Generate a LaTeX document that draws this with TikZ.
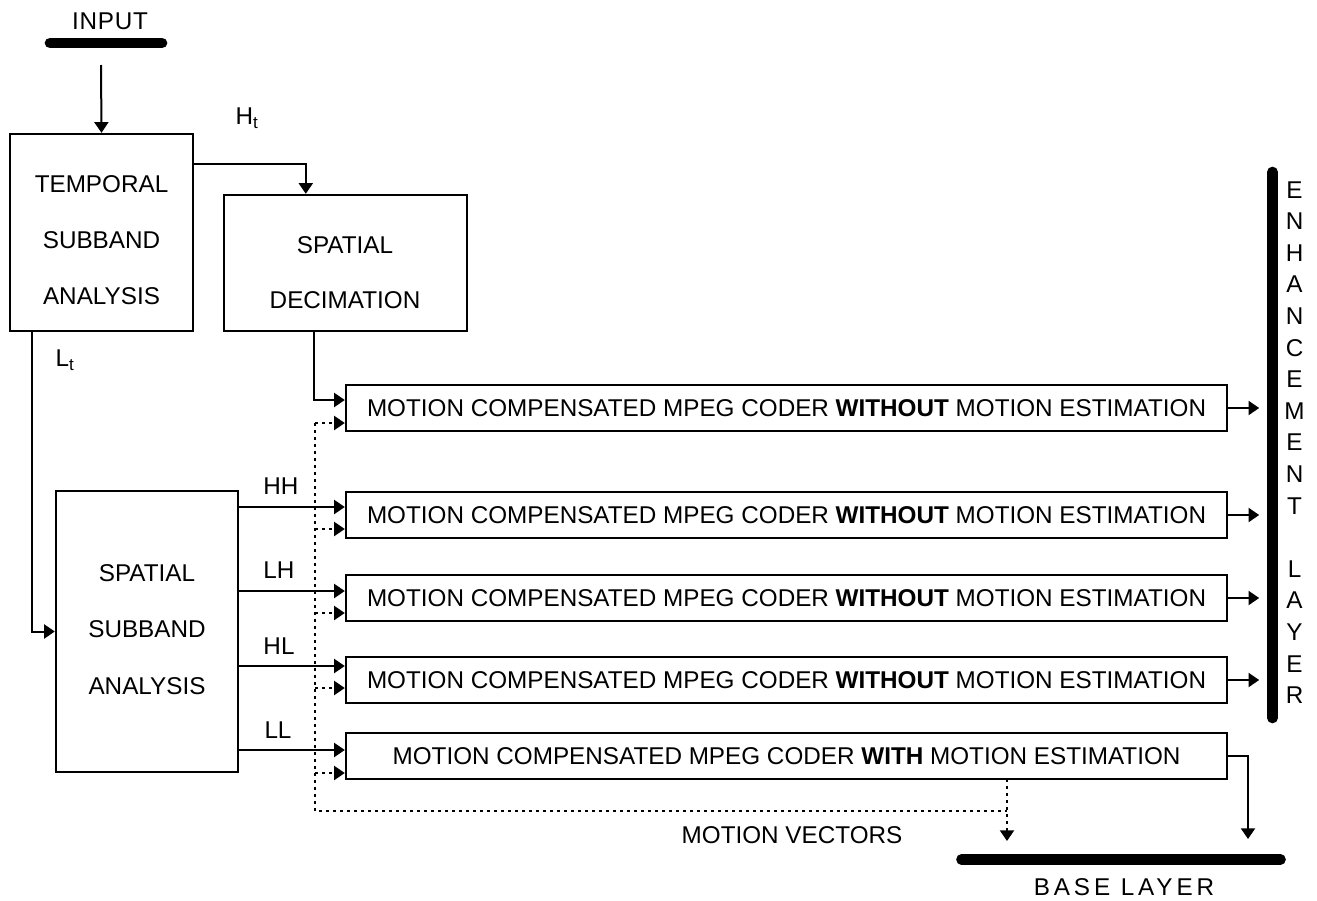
\documentclass[tikz,border=0pt]{standalone}
\usepackage{fontspec}
\setmainfont{Liberation Sans}
\usetikzlibrary{arrows.meta,calc}
\begin{document}
\begin{tikzpicture}[x=0.75pt,y=-0.75pt,
  every node/.style={font=\fontsize{18.2}{21}\selectfont,inner sep=0pt},
  box/.style={draw,line width=1.8pt},
  boxtext/.style={align=center,font=\fontsize{18.2}{42}\selectfont},
  coder/.style={draw,line width=1.8pt,minimum width=660.75pt,minimum height=34.5pt},
  conn/.style={line width=1.5pt,-{Triangle[length=8pt,width=10.5pt]}},
  dotl/.style={line width=1.5pt,dash pattern=on 2.25pt off 3pt},
  dota/.style={dotl,-{Triangle[length=8pt,width=10.5pt]}},
  bar/.style={line width=8pt,line cap=round}
]
\useasboundingbox (0,0) rectangle (1317,900);

% input
\node (input) at (110,21) {\addfontfeature{LetterSpace=3}INPUT};
\coordinate (ib1) at (50,43);
\coordinate (ib2) at (162,43);
\draw[bar] (ib1) -- (ib2);
\coordinate (inA) at (101,65);

% temporal subband analysis
\node[box,minimum width=137.25pt,minimum height=147.75pt] (tsa) at (101.5,232.5) {};
\node[boxtext] (tsat) at (101.5,240) {TEMPORAL\\SUBBAND\\ANALYSIS};

% spatial decimation
\node[box,minimum width=182.25pt,minimum height=102pt] (sd) at (345.5,263) {};
\node[boxtext,font=\fontsize{18.2}{41.25}\selectfont] (sdt) at (345,272.5) {SPATIAL\\DECIMATION};

% spatial subband analysis
\node[box,minimum width=136.5pt,minimum height=210.75pt] (ssa) at (147,631.5) {};
\node[boxtext,font=\fontsize{18.2}{42.4}\selectfont] (ssat) at (147,629.5) {SPATIAL\\SUBBAND\\ANALYSIS};

% coders
\node[coder] (c1) at (786.5,408) {MOTION COMPENSATED MPEG CODER \textbf{WITHOUT} MOTION ESTIMATION};
\node[coder] (c2) at (786.5,515) {MOTION COMPENSATED MPEG CODER \textbf{WITHOUT} MOTION ESTIMATION};
\node[coder] (c3) at (786.5,598) {MOTION COMPENSATED MPEG CODER \textbf{WITHOUT} MOTION ESTIMATION};
\node[coder] (c4) at (786.5,680) {MOTION COMPENSATED MPEG CODER \textbf{WITHOUT} MOTION ESTIMATION};
\node[coder] (c5) at (786.5,756) {MOTION COMPENSATED MPEG CODER \textbf{WITH} MOTION ESTIMATION};

% labels
\node (ht) at (247,118) {H\textsubscript{t}};
\node (lt) at (65,360) {L\textsubscript{t}};
\node (hh) at (281,486) {HH};
\node (lh) at (279,570) {LH};
\node (hl) at (279,646) {HL};
\node (ll) at (278,730) {LL};
\node (mvt) at (792,835) {MOTION VECTORS};

% enhancement layer
\coordinate (eb1) at (1272.5,172);
\coordinate (eb2) at (1272.5,718);
\draw[bar] (eb1) -- (eb2);
\node[align=center,font=\fontsize{18.2}{23.7}\selectfont] (enh) at (1294.5,442.5)
  {E\\N\\H\\A\\N\\C\\E\\M\\E\\N\\T\\\mbox{}\\L\\A\\Y\\E\\R};

% base layer
\coordinate (bb1) at (961.5,859.5);
\coordinate (bb2) at (1280.5,859.5);
\draw[bar] (bb1) -- (bb2);
\node (base) at (1124,887) {\addfontfeature{LetterSpace=16}BASE LAYER};

% arrow points on coders
\coordinate (a1) at ($(c1.west)+(0,-8)$);
\coordinate (a2) at ($(c2.west)+(0,-8)$);
\coordinate (a3) at ($(c3.west)+(0,-7)$);
\coordinate (a4) at ($(c4.west)+(0,-14)$);
\coordinate (a5) at ($(c5.west)+(0,-6)$);
\coordinate (d1) at ($(c1.west)+(0,15)$);
\coordinate (d2) at ($(c2.west)+(0,14)$);
\coordinate (d3) at ($(c3.west)+(0,15)$);
\coordinate (d4) at ($(c4.west)+(0,8)$);
\coordinate (d5) at ($(c5.west)+(0,17)$);
\coordinate (dc) at (315,811);
\coordinate (mv) at (1007,779);
\coordinate (mvend) at (1007,841);
\coordinate (blend) at (1248,839);

% connectors
\draw[conn] (inA) -- (tsa.north);
\draw[conn] ($(tsa.north east)+(0,31)$) -| ($(sd.north west)+(83,0)$);
\draw[conn] ($(tsa.south west)+(23,0)$) |- (ssa.west);
\draw[conn] ($(sd.south west)+(91,0)$) |- (a1);
\draw[conn] (ssa.east |- a2) -- (a2);
\draw[conn] (ssa.east |- a3) -- (a3);
\draw[conn] (ssa.east |- a4) -- (a4);
\draw[conn] (ssa.east |- a5) -- (a5);

% dotted motion vectors
\draw[dotl] (d1 -| dc) -- (dc) -- (dc -| mv);
\draw[dota] (d1 -| dc) -- (d1);
\draw[dota] (d2 -| dc) -- (d2);
\draw[dota] (d3 -| dc) -- (d3);
\draw[dota] (d4 -| dc) -- (d4);
\draw[dota] (d5 -| dc) -- (d5);
\draw[dota] (mv) -- (mvend);

% outputs
\draw[conn] (c1.east) -- ++(31,0);
\draw[conn] (c2.east) -- ++(31,0);
\draw[conn] (c3.east) -- ++(31,0);
\draw[conn] (c4.east) -- ++(31,0);
\draw[conn] (c5.east) -| (blend);
\end{tikzpicture}
\end{document}
